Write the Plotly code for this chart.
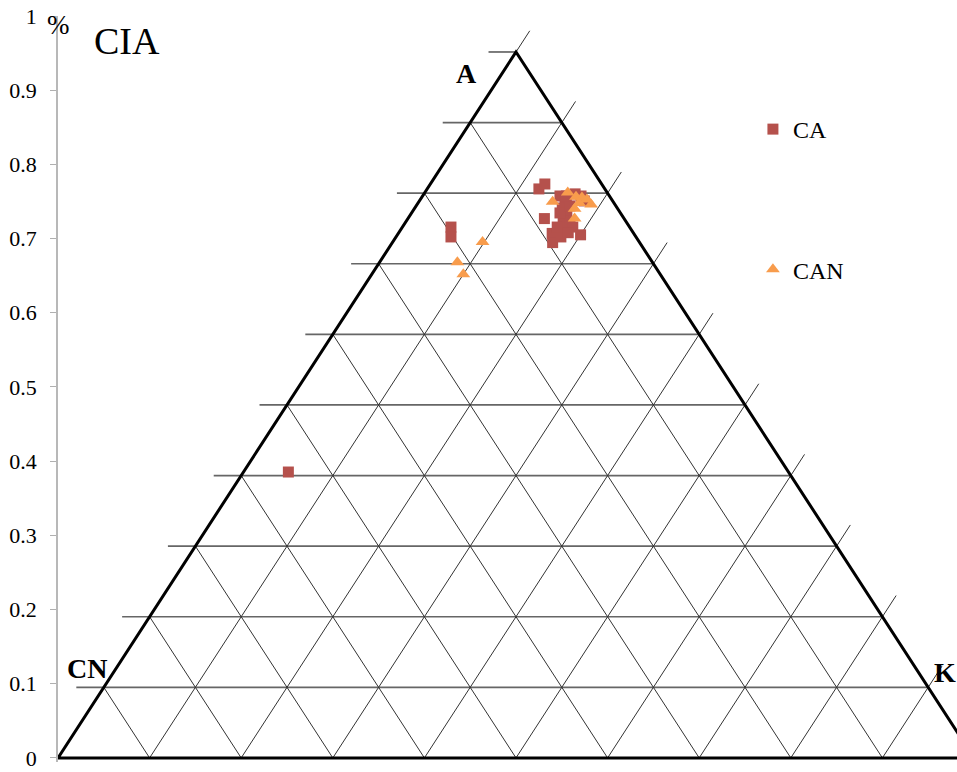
import plotly.graph_objects as go

# Compositions as fractions of A (Al2O3), K (K2O); CN (CaO* + Na2O) = 1 - A - K
ca_A = [0.806, 0.813, 0.764, 0.796, 0.789, 0.779, 0.771, 0.761, 0.758, 0.750,
        0.752, 0.743, 0.730, 0.738, 0.744, 0.741, 0.799, 0.796, 0.789, 0.772,
        0.782, 0.752, 0.752, 0.738, 0.405, 0.796]
ca_K = [0.122, 0.125, 0.149, 0.150, 0.159, 0.161, 0.170, 0.171, 0.180, 0.180,
        0.186, 0.168, 0.175, 0.180, 0.185, 0.200, 0.165, 0.173, 0.180, 0.162,
        0.168, 0.169, 0.053, 0.060, 0.049, 0.157]

can_A = [0.788, 0.801, 0.795, 0.794, 0.791, 0.784, 0.778, 0.764, 0.786,
         0.731, 0.702, 0.685]
can_K = [0.146, 0.156, 0.168, 0.175, 0.182, 0.190, 0.175, 0.182, 0.176,
         0.098, 0.085, 0.100]

series_names = ["CA", "CAN"]
vertex_labels = ["A", "CN", "K"]
y_ticks = [0, 0.1, 0.2, 0.3, 0.4, 0.5, 0.6, 0.7, 0.8, 0.9, 1]
grid_levels = [0.1, 0.2, 0.3, 0.4, 0.5, 0.6, 0.7, 0.8, 0.9]

H = 0.9515      # triangle height in y-axis units
EXT = 0.03      # length of the tick stubs beyond the triangle edges
SERIF = "Liberation Serif, Times New Roman, serif"


def to_xy(a_vals, k_vals):
    xs = [k + a / 2 for a, k in zip(a_vals, k_vals)]
    ys = [a * H for a in a_vals]
    return xs, ys


# grid: constant-A (horizontal), constant-K and constant-CN lines
hx, hy = [], []
for a in grid_levels + [1.0]:
    hx += [a / 2 - EXT, 1 - a / 2, None]
    hy += [a * H, a * H, None]

dx, dy = [], []
for k in [0.0] + grid_levels:
    a_end = 1 - k + EXT
    dx += [k, k + a_end / 2, None]
    dy += [0, a_end * H, None]
for cn in grid_levels:
    dx += [1 - cn, (1 - cn) / 2, None]
    dy += [0, (1 - cn) * H, None]

fig = go.Figure()
fig.add_trace(go.Scatter(x=hx, y=hy, mode="lines", line=dict(color="#666666", width=1.7),
                         hoverinfo="skip", showlegend=False))
fig.add_trace(go.Scatter(x=dx, y=dy, mode="lines", line=dict(color="#333333", width=1),
                         hoverinfo="skip", showlegend=False))
fig.add_trace(go.Scatter(x=[0, 0.5, 1, 0], y=[0, H, 0, 0], mode="lines",
                         line=dict(color="black", width=3),
                         hoverinfo="skip", showlegend=False))

ca_x, ca_y = to_xy(ca_A, ca_K)
can_x, can_y = to_xy(can_A, can_K)
fig.add_trace(go.Scatter(x=ca_x, y=ca_y, mode="markers", name=series_names[0],
                         legendgroup="g1",
                         marker=dict(symbol="square", size=11, color="#b5514c",
                                     line=dict(width=0))))
fig.add_trace(go.Scatter(x=can_x, y=can_y, mode="markers", name=series_names[1],
                         legendgroup="g2",
                         marker=dict(symbol="triangle-up", size=12, color="#f89c4c",
                                     line=dict(width=0))))

W, HT = 957, 772
L, R, T, B = 58, 0, 16, 10
y_lo = -0.0055
x_hi = (W - L) / 916.0

fig.update_layout(
    width=W, height=HT,
    margin=dict(l=L, r=R, t=T, b=B),
    paper_bgcolor="white", plot_bgcolor="white",
    font=dict(family=SERIF, color="black"),
    xaxis=dict(range=[0, x_hi], visible=False, showgrid=False, zeroline=False),
    yaxis=dict(range=[y_lo, 1], tickvals=y_ticks, ticks="outside", ticklen=6,
               tickcolor="#b0b0b0", showline=True, linecolor="#b8b8b8", linewidth=1.5,
               showgrid=False, zeroline=False, ticklabelstandoff=9,
               tickfont=dict(family=SERIF, size=22, color="black")),
    legend=dict(x=0.773, y=0.878, xanchor="left", yanchor="top",
                font=dict(family=SERIF, size=24, color="black"),
                tracegroupgap=106, bgcolor="rgba(0,0,0,0)"),
    showlegend=True,
)

ann = [
    dict(text="CIA", x=(92 - L) / (W - L), y=(758 - 41) / 742, xanchor="left",
         yanchor="middle", font=dict(size=38)),
    dict(text="<b>%s</b>" % vertex_labels[0], x=(466 - L) / (W - L), y=(758 - 73) / 742,
         xanchor="center", yanchor="middle", font=dict(size=28)),
    dict(text="<b>%s</b>" % vertex_labels[1], x=(87 - L) / (W - L), y=(758 - 665) / 742,
         xanchor="center", yanchor="middle", font=dict(size=28)),
    dict(text="<b>%s</b>" % vertex_labels[2], x=(932 - L) / (W - L), y=(758 - 669) / 742,
         xanchor="left", yanchor="middle", font=dict(size=28)),
    dict(text="%", x=(45 - L) / (W - L), y=(758 - 25) / 742, xanchor="left",
         yanchor="middle", font=dict(size=27)),
]
for a in ann:
    a.update(xref="paper", yref="paper", showarrow=False)
fig.update_layout(annotations=ann)

fig.write_html("out.html")
